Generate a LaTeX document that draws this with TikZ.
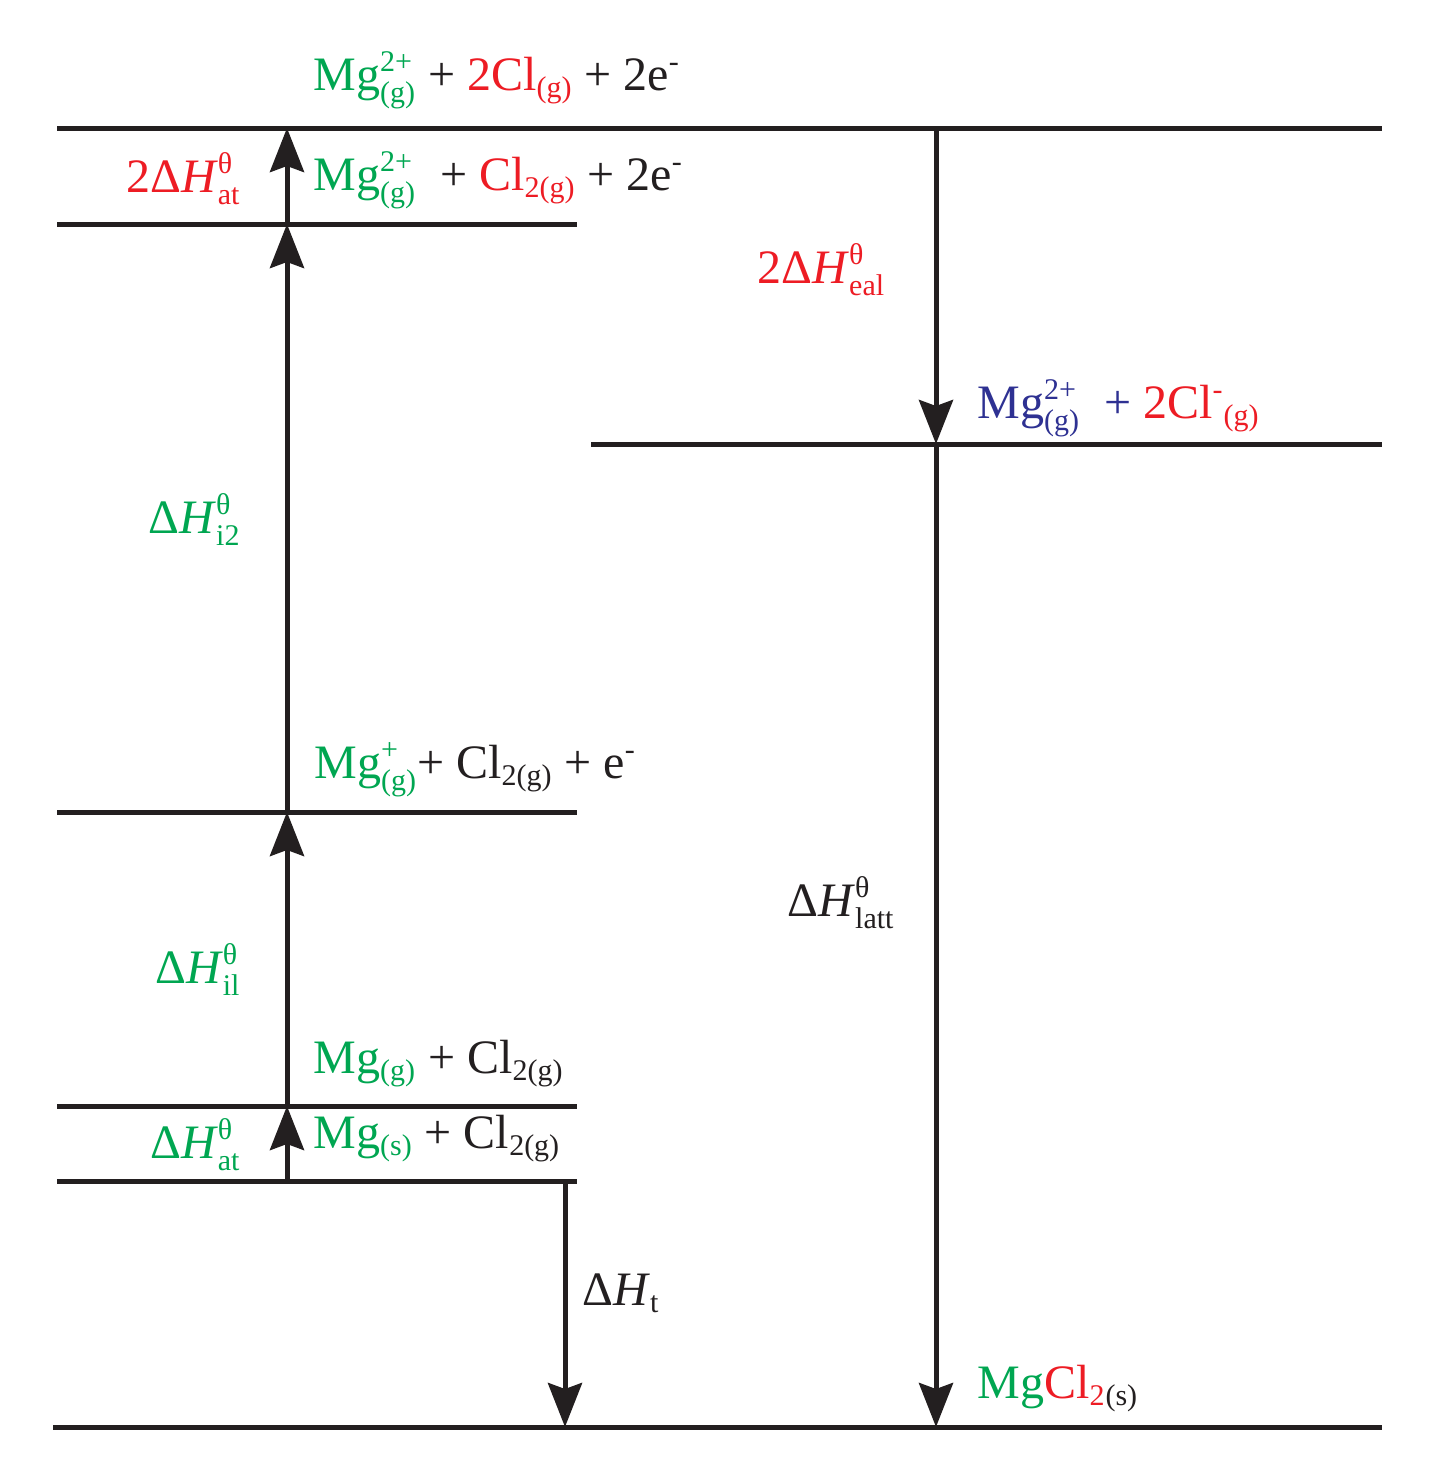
\documentclass[tikz,border=0pt]{standalone}
\usepackage{amsmath}
\usepackage{fontspec}
\setmainfont{Liberation Serif}
\usetikzlibrary{arrows.meta}
\DeclareMathSizes{24}{24}{15}{11}
\definecolor{mggreen}{RGB}{0,166,81}
\definecolor{clred}{RGB}{237,28,36}
\definecolor{ionblue}{RGB}{46,49,146}
\definecolor{ink}{RGB}{35,31,32}
\newcommand{\ud}[2]{$^{\text{#1}}_{\text{#2}}$}
\newcommand{\dn}[1]{$_{\text{#1}}$}
\newcommand{\dH}[1]{Δ\textit{H}\ud{θ}{#1}}
\begin{document}
\begin{tikzpicture}[x=0.5pt,y=-0.5pt,color=ink,line width=2.5pt,
  arr/.style={-{Stealth[length=22pt,width=17pt,inset=3pt]}},
  lbl/.style={inner sep=0pt,anchor=base west,font=\fontsize{24}{29}\selectfont},
  dlbl/.style={lbl,anchor=base east}]
\useasboundingbox (0,0) rectangle (1435,1463);
% energy levels
\coordinate (top-w) at (57,128);\coordinate (top-e) at (1382,128);
\coordinate (mol-w) at (57,224);\coordinate (mol-e) at (577,224);
\coordinate (ion-w) at (591,444);\coordinate (ion-e) at (1382,444);
\coordinate (one-w) at (57,812);\coordinate (one-e) at (577,812);
\coordinate (gas-w) at (57,1106);\coordinate (gas-e) at (577,1106);
\coordinate (sol-w) at (57,1181);\coordinate (sol-e) at (577,1181);
\coordinate (bot-w) at (53,1427);\coordinate (bot-e) at (1382,1427);
\foreach \lv in {top,mol,ion,one,gas,sol,bot} \draw (\lv-w) -- (\lv-e);
% steps
\coordinate (a1) at (287,1181);\coordinate (a2) at (287,1106);\coordinate (a3) at (287,812);
\coordinate (a4) at (287,224);\coordinate (a5) at (287,128);
\coordinate (b1) at (936,128);\coordinate (b2) at (936,444);\coordinate (b3) at (936,1427);
\coordinate (c1) at (565,1181);\coordinate (c2) at (565,1427);
\draw[arr] (a1) -- (a2);\draw[arr] (a2) -- (a3);\draw[arr] (a3) -- (a4);\draw[arr] (a4) -- (a5);
\draw[arr] (b1) -- (b2);\draw[arr] (b2) -- (b3);\draw[arr] (c1) -- (c2);
% species
\node[lbl] (top) at (311,90) {\textcolor{mggreen}{Mg\ud{2+}{(g)}} + \textcolor{clred}{2Cl\dn{(g)}} + 2e\ud{-}{}};
\node[lbl] (mol) at (311,190) {\textcolor{mggreen}{Mg\ud{2+}{(g)}}\ \ + \textcolor{clred}{Cl\dn{2(g)}} + 2e\ud{-}{}};
\node[lbl,ionblue] (ion) at (975,418) {Mg\ud{2+}{(g)}\ \ + \textcolor{clred}{2Cl$^{\text{-}}{}_{\text{(g)}}$}};
\node[lbl] (one) at (312,778) {\textcolor{mggreen}{Mg\ud{+}{(g)}}+ Cl\dn{2(g)} + e\ud{-}{}};
\node[lbl] (gas) at (311,1073) {\textcolor{mggreen}{Mg\dn{(g)}} + Cl\dn{2(g)}};
\node[lbl] (sol) at (311,1148) {\textcolor{mggreen}{Mg\dn{(s)}} + Cl\dn{2(g)}};
\node[lbl] (salt) at (975,1398) {\textcolor{mggreen}{Mg}\textcolor{clred}{Cl\dn{2}}\dn{(s)}};
% enthalpy changes
\node[dlbl,clred] (atcl) at (243,192) {2\dH{at}};
\node[dlbl,mggreen] (ie2) at (243,533) {\dH{i2}};
\node[dlbl,mggreen] (ie1) at (243,983) {\dH{il}};
\node[dlbl,mggreen] (atmg) at (243,1158) {\dH{at}};
\node[lbl,clred] (ea) at (755,283) {2\dH{eal}};
\node[lbl] (latt) at (785,916) {\dH{latt}};
\node[lbl] (form) at (580,1305) {Δ\textit{H}\dn{t}};
\end{tikzpicture}
\end{document}
